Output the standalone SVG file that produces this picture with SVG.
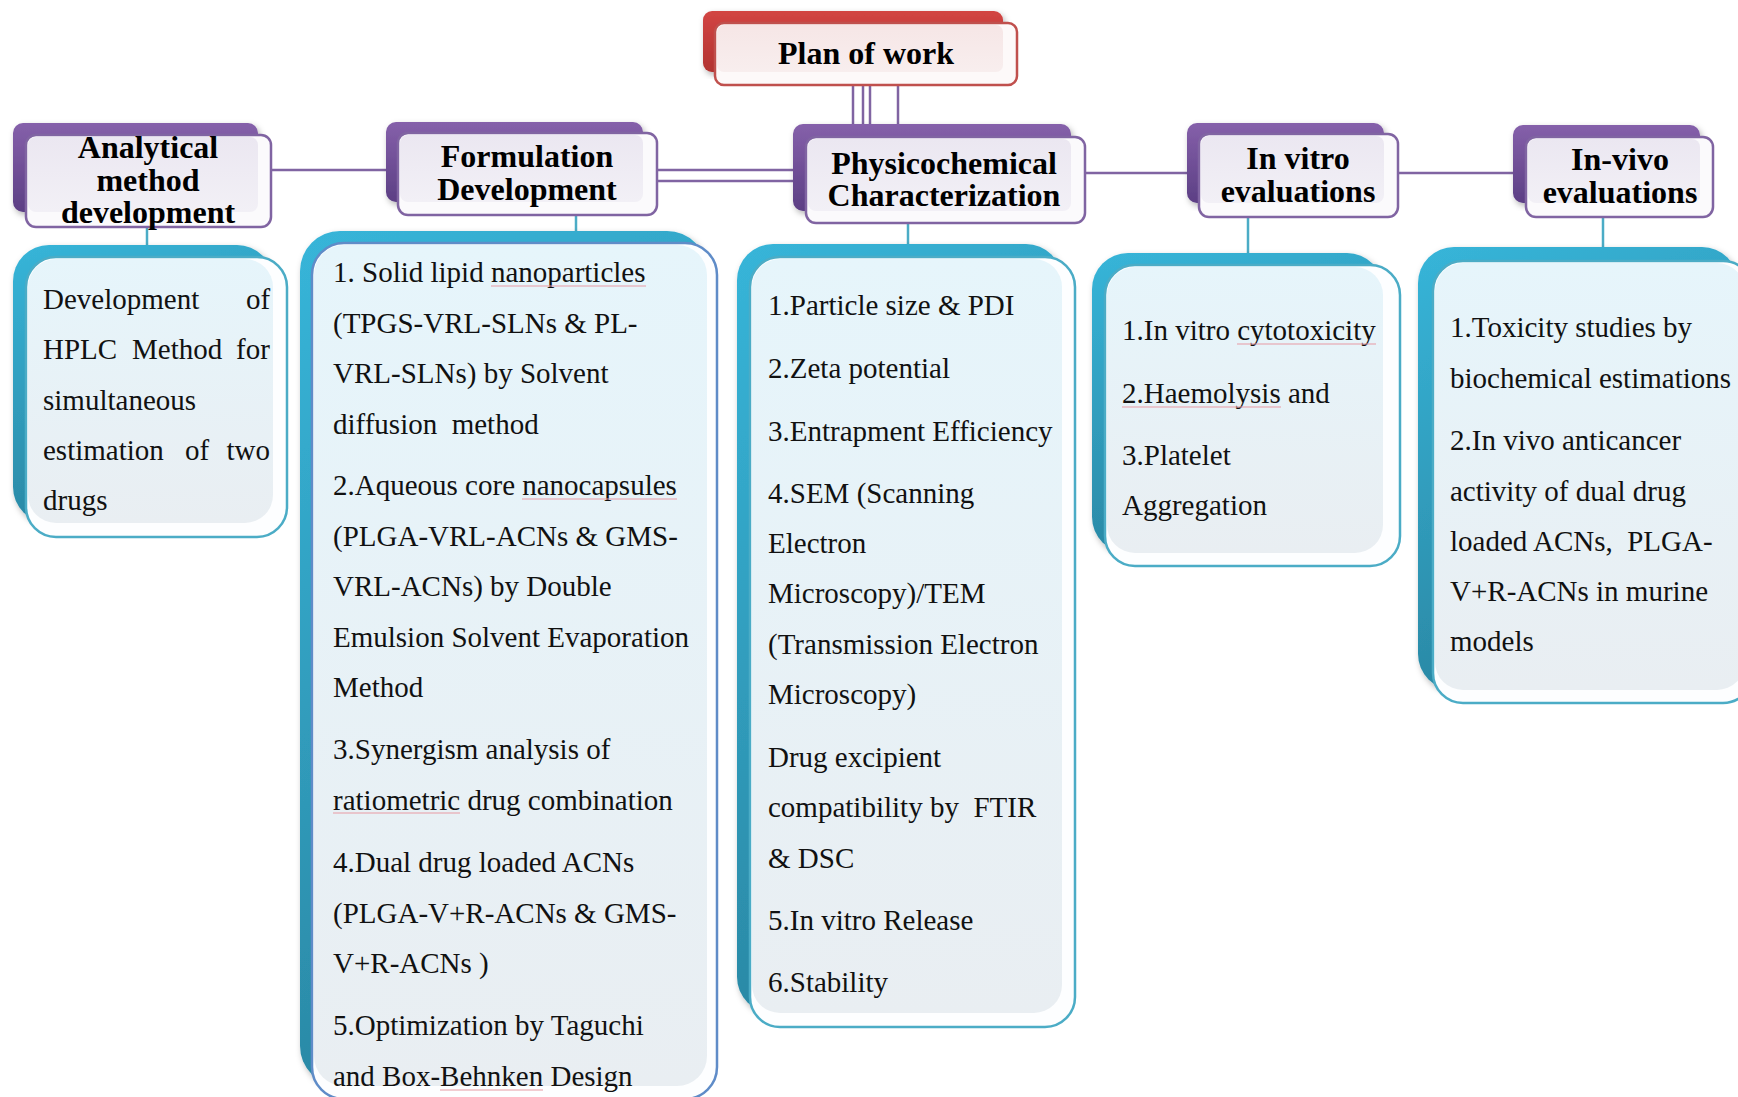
<svg xmlns="http://www.w3.org/2000/svg" width="1738" height="1097" viewBox="0 0 1738 1097">
<style>
.h{font-family:"Liberation Serif","Times New Roman",serif;font-weight:bold;font-size:32px;fill:#000;text-anchor:middle}
.b{font-family:"Liberation Serif","Times New Roman",serif;font-size:29px;fill:#111;white-space:pre}
.pl{stroke:#8064a2;stroke-width:2.5;fill:none}
.tl{stroke:#4bacc6;stroke-width:2.5;fill:none}
.pback{fill:url(#gPurple);filter:url(#sh)}
.hfront{fill:#fbfafc;stroke:#8064a2;stroke-width:2.5}
.hinner{fill:url(#gLav)}
.tback{fill:url(#gTeal);filter:url(#sh)}
.tfront{fill:#fdfeff;stroke:#4bacc6;stroke-width:2.5}
.tinner{fill:url(#gIce)}
.ul{stroke:#e79aa3;stroke-width:1.2}
</style>
<defs>
<linearGradient id="gPurple" x1="0" y1="0" x2="0" y2="1"><stop offset="0" stop-color="#8560aa"/><stop offset="1" stop-color="#5c3f84"/></linearGradient>
<linearGradient id="gRed" x1="0" y1="0" x2="0" y2="1"><stop offset="0" stop-color="#d24543"/><stop offset="1" stop-color="#b23331"/></linearGradient>
<linearGradient id="gLav" x1="0" y1="0" x2="0" y2="1"><stop offset="0" stop-color="#ebe7f1"/><stop offset="1" stop-color="#f2f0f6"/></linearGradient>
<linearGradient id="gPink" x1="0" y1="0" x2="0" y2="1"><stop offset="0" stop-color="#f6e6e6"/><stop offset="1" stop-color="#f8eeee"/></linearGradient>
<linearGradient id="gTeal" x1="0" y1="0" x2="0.3" y2="1"><stop offset="0" stop-color="#37b5d9"/><stop offset="1" stop-color="#2a86a2"/></linearGradient>
<linearGradient id="gIce" x1="0" y1="0" x2="0" y2="1"><stop offset="0" stop-color="#e6f5fb"/><stop offset="1" stop-color="#e9eef2"/></linearGradient>
<filter id="sh" x="-10%" y="-10%" width="120%" height="120%"><feDropShadow dx="2" dy="3" stdDeviation="3" flood-color="#000" flood-opacity="0.3"/></filter>
</defs>
<rect width="1738" height="1097" fill="#fff"/>

<g id="connectors">
<line class="pl" x1="853" y1="84" x2="853" y2="126"/>
<line class="pl" x1="863" y1="84" x2="863" y2="126"/>
<line class="pl" x1="870" y1="84" x2="870" y2="126"/>
<line class="pl" x1="898" y1="84" x2="898" y2="126"/>
<line class="pl" x1="271" y1="170" x2="388" y2="170"/>
<line class="pl" x1="657" y1="170" x2="795" y2="170"/>
<line class="pl" x1="657" y1="181" x2="795" y2="181"/>
<line class="pl" x1="1085" y1="173" x2="1189" y2="173"/>
<line class="pl" x1="1398" y1="173" x2="1515" y2="173"/>
<line class="tl" x1="147" y1="227" x2="147" y2="247"/>
<line class="tl" x1="576" y1="215" x2="576" y2="233"/>
<line class="tl" x1="908" y1="223" x2="908" y2="246"/>
<line class="tl" x1="1248" y1="217" x2="1248" y2="255"/>
<line class="tl" x1="1603" y1="217" x2="1603" y2="249"/>
</g>

<g id="plan">
<rect x="703" y="11" width="300" height="61" rx="9" fill="url(#gRed)" filter="url(#sh)"/>
<rect x="715" y="23" width="302" height="62" rx="9" fill="#fdf9f9" stroke="#c0504d" stroke-width="2.5"/>
<rect x="717" y="25" width="286" height="47" rx="7" fill="url(#gPink)"/>
<text class="h" x="866" y="64">Plan of work</text>
</g>

<g id="analytical">
<rect class="pback" x="13" y="123" width="245" height="89" rx="10"/>
<rect class="hfront" x="26" y="135" width="245" height="92" rx="10"/>
<rect class="hinner" x="28" y="137" width="230" height="75" rx="8"/>
<text class="h" x="148" y="158">Analytical</text>
<text class="h" x="148" y="191">method</text>
<text class="h" x="148" y="223">development</text>
</g>

<g id="formulation">
<rect class="pback" x="386" y="122" width="257" height="80" rx="10"/>
<rect class="hfront" x="398" y="133" width="259" height="82" rx="10"/>
<rect class="hinner" x="400" y="135" width="243" height="67" rx="8"/>
<text class="h" x="527" y="167">Formulation</text>
<text class="h" x="527" y="200">Development</text>
</g>

<g id="physico">
<rect class="pback" x="793" y="124" width="278" height="87" rx="10"/>
<rect class="hfront" x="806" y="137" width="279" height="86" rx="10"/>
<rect class="hinner" x="808" y="139" width="263" height="72" rx="8"/>
<text class="h" x="944" y="174">Physicochemical</text>
<text class="h" x="944" y="206">Characterization</text>
</g>

<g id="invitro">
<rect class="pback" x="1187" y="123" width="197" height="80" rx="10"/>
<rect class="hfront" x="1199" y="134" width="199" height="83" rx="10"/>
<rect class="hinner" x="1201" y="136" width="183" height="67" rx="8"/>
<text class="h" x="1298" y="169">In vitro</text>
<text class="h" x="1298" y="202">evaluations</text>
</g>

<g id="invivo">
<rect class="pback" x="1513" y="125" width="187" height="78" rx="10"/>
<rect class="hfront" x="1526" y="137" width="187" height="80" rx="10"/>
<rect class="hinner" x="1528" y="139" width="172" height="64" rx="8"/>
<text class="h" x="1620" y="170">In-vivo</text>
<text class="h" x="1620" y="203">evaluations</text>
</g>

<g id="analytical-detail">
<rect class="tback" x="13" y="245" width="260" height="278" rx="36"/>
<rect class="tfront" x="26" y="257" width="261" height="280" rx="30"/>
<rect class="tinner" x="28" y="259" width="245" height="264" rx="28"/>
<text class="b" y="309"><tspan x="43">Development</tspan><tspan x="246">of</tspan></text>
<text class="b" y="359"><tspan x="43">HPLC</tspan><tspan x="132">Method</tspan><tspan x="236">for</tspan></text>
<text class="b" x="43" y="410">simultaneous</text>
<text class="b" y="460"><tspan x="43">estimation</tspan><tspan x="185">of</tspan><tspan x="226.5">two</tspan></text>
<text class="b" x="43" y="510">drugs</text>
</g>

<g id="formulation-detail">
<rect class="tback" x="300" y="231" width="407" height="855" rx="40"/>
<rect class="tfront" x="312" y="243" width="405" height="856" rx="32" style="stroke:#5f8cc8"/>
<rect class="tinner" x="314" y="245" width="393" height="841" rx="30"/>
<text class="b" x="333" y="282">1. Solid lipid nanoparticles</text>
<text class="b" x="333" y="332.5">(TPGS-VRL-SLNs &amp; PL-</text>
<text class="b" x="333" y="383">VRL-SLNs) by Solvent</text>
<text class="b" x="333" y="433.5">diffusion  method</text>
<text class="b" x="333" y="495">2.Aqueous core nanocapsules</text>
<text class="b" x="333" y="545.5">(PLGA-VRL-ACNs &amp; GMS-</text>
<text class="b" x="333" y="596">VRL-ACNs) by Double</text>
<text class="b" x="333" y="646.5">Emulsion Solvent Evaporation</text>
<text class="b" x="333" y="697">Method</text>
<text class="b" x="333" y="759">3.Synergism analysis of</text>
<text class="b" x="333" y="809.5">ratiometric drug combination</text>
<text class="b" x="333" y="872">4.Dual drug loaded ACNs</text>
<text class="b" x="333" y="922.5">(PLGA-V+R-ACNs &amp; GMS-</text>
<text class="b" x="333" y="973">V+R-ACNs )</text>
<text class="b" x="333" y="1035">5.Optimization by Taguchi</text>
<text class="b" x="333" y="1086">and Box-Behnken Design</text>
<line class="ul" x1="491" y1="286" x2="646" y2="286"/>
<line class="ul" x1="522" y1="499" x2="677" y2="499"/>
<line class="ul" x1="333" y1="813" x2="460" y2="813"/>
<line class="ul" x1="440" y1="1090" x2="543" y2="1090"/>
</g>

<g id="physico-detail">
<rect class="tback" x="737" y="244" width="325" height="769" rx="36"/>
<rect class="tfront" x="750" y="257" width="325" height="770" rx="30"/>
<rect class="tinner" x="752" y="259" width="310" height="754" rx="28"/>
<text class="b" x="768" y="315">1.Particle size &amp; PDI</text>
<text class="b" x="768" y="378">2.Zeta potential</text>
<text class="b" x="768" y="441">3.Entrapment Efficiency</text>
<text class="b" x="768" y="503">4.SEM (Scanning</text>
<text class="b" x="768" y="553">Electron</text>
<text class="b" x="768" y="603">Microscopy)/TEM</text>
<text class="b" x="768" y="654">(Transmission Electron</text>
<text class="b" x="768" y="704">Microscopy)</text>
<text class="b" x="768" y="767">Drug excipient</text>
<text class="b" x="768" y="817">compatibility by  FTIR</text>
<text class="b" x="768" y="868">&amp; DSC</text>
<text class="b" x="768" y="930">5.In vitro Release</text>
<text class="b" x="768" y="992">6.Stability</text>
</g>

<g id="invitro-detail">
<rect class="tback" x="1092" y="253" width="291" height="300" rx="36"/>
<rect class="tfront" x="1105" y="265" width="295" height="301" rx="30"/>
<rect class="tinner" x="1107" y="267" width="276" height="286" rx="28"/>
<text class="b" x="1122" y="340">1.In vitro cytotoxicity</text>
<text class="b" x="1122" y="403">2.Haemolysis and</text>
<text class="b" x="1122" y="465">3.Platelet</text>
<text class="b" x="1122" y="515">Aggregation</text>
<line class="ul" x1="1237" y1="344" x2="1376" y2="344"/>
<line class="ul" x1="1122" y1="407" x2="1281" y2="407"/>
</g>

<g id="invivo-detail">
<rect class="tback" x="1418" y="247" width="320" height="443" rx="36"/>
<rect class="tfront" x="1433" y="261" width="320" height="442" rx="30"/>
<rect class="tinner" x="1435" y="263" width="310" height="427" rx="28"/>
<text class="b" x="1450" y="337">1.Toxicity studies by</text>
<text class="b" x="1450" y="388">biochemical estimations</text>
<text class="b" x="1450" y="450">2.In vivo anticancer</text>
<text class="b" x="1450" y="501">activity of dual drug</text>
<text class="b" x="1450" y="551">loaded ACNs,  PLGA-</text>
<text class="b" x="1450" y="601">V+R-ACNs in murine</text>
<text class="b" x="1450" y="651">models</text>
</g>
</svg>
